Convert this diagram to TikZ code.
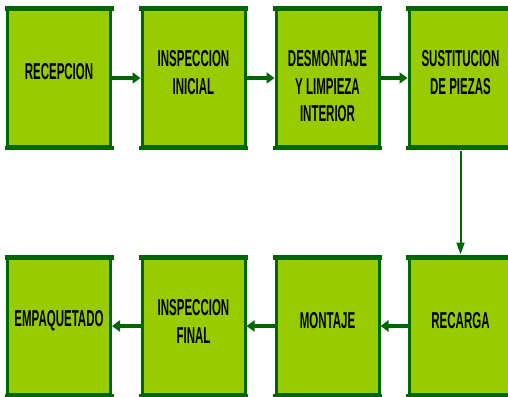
\documentclass[tikz,border=0pt]{standalone}
\usepackage{fontspec}
\newfontfamily\lblfont[FakeStretch=0.5]{Liberation Sans}
\usetikzlibrary{arrows.meta}
\definecolor{boxfill}{HTML}{99CC00}
\definecolor{dkgreen}{HTML}{006600}
\tikzset{
  procbox/.style={draw=dkgreen, fill=boxfill, line width=3pt, minimum width=103pt, minimum height=137pt, inner sep=0pt},
  lbl/.style={font=\lblfont\bfseries\fontsize{23}{27.5}\selectfont, align=center, text=black, inner sep=0pt},
  harrow/.style={draw=dkgreen, line width=3.5pt, -{Triangle[length=8pt,width=11pt]}},
  varrow/.style={draw=dkgreen, line width=2pt, -{Triangle[length=12pt,width=8pt]}}
}
\begin{document}
\begin{tikzpicture}[x=1pt,y=-1pt]
\useasboundingbox (0,0) rectangle (508,396);
\clip (0,0) rectangle (508,396);
% top row
\node[procbox] (b1) at (59,78) {};
\node[procbox] (b2) at (193.5,78) {};
\node[procbox] (b3) at (327.5,78) {};
\node[procbox] (b4) at (460.5,78) {};
% bottom row
\node[procbox] (b5) at (460.5,326) {};
\node[procbox] (b6) at (327.5,326) {};
\node[procbox] (b7) at (193.5,326) {};
\node[procbox] (b8) at (59,326) {};
% thicker top and bottom bands
\foreach \n in {b1,b2,b3,b4,b5,b6,b7,b8}{
  \fill[dkgreen] ([xshift=-1.5pt,yshift=1.5pt]\n.north west) rectangle ([xshift=1.5pt,yshift=-3.5pt]\n.north east);
  \fill[dkgreen] ([xshift=-1.5pt,yshift=-1.5pt]\n.south west) rectangle ([xshift=1.5pt,yshift=2.5pt]\n.south east);
}
% labels
\node[lbl] (t1) at (59,72) {RECEPCION};
\node[lbl] (t2) at (193.5,72.5) {INSPECCION\\INICIAL};
\node[lbl] (t3) at (327.5,86.5) {DESMONTAJE\\Y LIMPIEZA\\INTERIOR};
\node[lbl] (t4) at (460.5,72.5) {SUSTITUCION\\DE PIEZAS};
\node[lbl] (t5) at (460.5,321) {RECARGA};
\node[lbl] (t6) at (327.5,321) {MONTAJE};
\node[lbl] (t7) at (193.5,321.5) {INSPECCION\\FINAL};
\node[lbl] (t8) at (59,321) {EMPAQUETADO};
% connectors
\draw[harrow] (b1.east) -- (b2.west);
\draw[harrow] (b2.east) -- (b3.west);
\draw[harrow] (b3.east) -- (b4.west);
\draw[varrow] ([yshift=-2.5pt]b4.south) -- ([yshift=1.5pt]b5.north);
\draw[harrow] (b5.west) -- (b6.east);
\draw[harrow] (b6.west) -- (b7.east);
\draw[harrow] (b7.west) -- (b8.east);
\end{tikzpicture}
\end{document}
